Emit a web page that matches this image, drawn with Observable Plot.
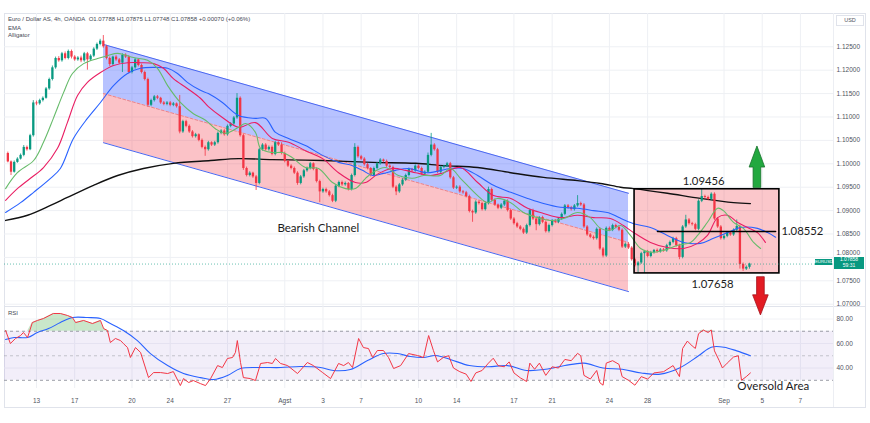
<!DOCTYPE html>
<html>
<head>
<meta charset="utf-8">
<script src="https://cdn.jsdelivr.net/npm/d3@7"></script>
<script src="https://cdn.jsdelivr.net/npm/@observablehq/plot@0.6"></script>
<style>
  html, body { margin: 0; padding: 0; background: #fff; }
  #wrap { position: relative; width: 870px; height: 423px; overflow: hidden; font-family: "Liberation Sans", Arial, sans-serif; }
  #wrap svg { position: absolute; left: 0; overflow: visible; }
  .ov { position: absolute; white-space: nowrap; }
  .hl { position: absolute; background: #e0e3eb; }
</style>
</head>
<body>
<div id="wrap"></div>
<script>
// ---------------- DATA ----------------
// 4h EUR/USD bars, x = bar index (6 bars per trading day, Jul 11 = day 0)
const firstBar = 3;
const firstOpen = 1.1022;
const closes = [
  1.1004, 1.0982, 1.1003,                          // Jul 11
  1.1010, 1.1018, 1.1035, 1.1030, 1.1060, 1.1130,  // Jul 12
  1.1128, 1.1135, 1.1140, 1.1160, 1.1180, 1.1205,  // Jul 13
  1.1225, 1.1220, 1.1235, 1.1225, 1.1240, 1.1228,  // Jul 14
  1.1222, 1.1226, 1.1220, 1.1235, 1.1222, 1.1230,  // Jul 17
  1.1245, 1.1255, 1.1262, 1.1250, 1.1225, 1.1212,  // Jul 18
  1.1228, 1.1222, 1.1215, 1.1232, 1.1228, 1.1195,  // Jul 19
  1.1205, 1.1222, 1.1210, 1.1195, 1.1180, 1.1125,  // Jul 20
  1.1135, 1.1143, 1.1140, 1.1130, 1.1127, 1.1130,  // Jul 21
  1.1125, 1.1128, 1.1122, 1.1068, 1.1090, 1.1080,  // Jul 24
  1.1068, 1.1058, 1.1062, 1.1050, 1.1035, 1.1030,  // Jul 25
  1.1045, 1.1040, 1.1045, 1.1065, 1.1070, 1.1062,  // Jul 26
  1.1080, 1.1085, 1.1098, 1.1140, 1.1060, 1.0990,  // Jul 27
  1.0975, 1.0980, 1.0972, 1.0958, 1.1030, 1.1040,  // Jul 28
  1.1030, 1.1035, 1.1020, 1.1045, 1.1040, 1.1022,  // Jul 31
  1.1005, 1.0995, 1.0990, 1.0980, 1.0958, 1.0972,  // Aug 1
  1.0985, 1.0990, 1.1000, 1.0988, 1.0962, 1.0940,  // Aug 2
  1.0945, 1.0940, 1.0932, 1.0920, 1.0952, 1.0960,  // Aug 3
  1.0955, 1.0958, 1.0945, 1.0975, 1.1035, 1.1015,  // Aug 4
  1.1010, 1.0998, 1.0990, 1.0975, 1.0990, 1.1000,  // Aug 7
  1.1008, 1.1005, 1.0995, 1.0992, 1.0950, 1.0940,  // Aug 8
  1.0955, 1.0965, 1.0975, 1.0988, 1.0985, 1.0995,  // Aug 9
  1.0990, 1.0978, 1.0982, 1.1018, 1.1040, 1.1030,  // Aug 10
  1.0982, 1.0992, 1.0995, 1.1000, 1.0970, 1.0948,  // Aug 11
  1.0950, 1.0940, 1.0938, 1.0930, 1.0898, 1.0895,  // Aug 14
  1.0918, 1.0915, 1.0902, 1.0915, 1.0945, 1.0922,  // Aug 15
  1.0912, 1.0905, 1.0912, 1.0920, 1.0900, 1.0882,  // Aug 16
  1.0872, 1.0865, 1.0860, 1.0852, 1.0868, 1.0900,  // Aug 17
  1.0882, 1.0870, 1.0885, 1.0875, 1.0855, 1.0868,  // Aug 18
  1.0878, 1.0875, 1.0882, 1.0892, 1.0910, 1.0906,  // Aug 21
  1.0902, 1.0910, 1.0915, 1.0912, 1.0865, 1.0848,  // Aug 22
  1.0843, 1.0840, 1.0860, 1.0818, 1.0803, 1.0862,  // Aug 23
  1.0858, 1.0868, 1.0864, 1.0858, 1.0822, 1.0828,  // Aug 24
  1.0820, 1.0795, 1.0782, 1.0788, 1.0808, 1.0812,  // Aug 25
  1.0802, 1.0810, 1.0815, 1.0812, 1.0816, 1.0814,  // Aug 28
  1.0825, 1.0832, 1.0840, 1.0825, 1.0800, 1.0865,  // Aug 29
  1.0880, 1.0872, 1.0870, 1.0860, 1.0920, 1.0930,  // Aug 30
  1.0928, 1.0924, 1.0935, 1.0882, 1.0865, 1.0840,  // Aug 31
  1.0845, 1.0852, 1.0848, 1.0858, 1.0866, 1.0785,  // Sep 1
  1.0775, 1.07788, 1.07858                         // Sep 4
];
// upper / lower wick lengths in pips (0.0001)
const wickUp = [
  3,2,3,
  3,3,4,3,3,5,  4,3,3,3,3,4,  3,4,3,4,3,3,  3,3,4,3,3,3,  3,3,4,12,3,3,
  2,3,3,3,3,3,  3,3,2,3,3,3,  3,3,3,2,3,3,  3,3,2,24,3,3,  3,3,3,2,3,3,
  3,2,3,3,3,3,  3,3,3,10,3,3, 3,3,2,3,3,3,  3,3,3,3,2,5,  3,2,3,3,3,3,
  3,3,3,2,3,3,  3,3,3,3,3,3,  3,3,2,3,8,3,  3,3,3,2,3,3,  3,2,3,3,3,3,
  3,3,3,3,2,3,  3,3,3,5,25,3, 3,3,2,3,3,3,  3,3,3,3,3,3,  3,3,3,3,5,3,
  3,2,3,3,3,3,  3,3,3,3,3,3,  3,3,2,3,3,3,  3,3,3,3,3,3,  3,3,17,3,3,3,
  3,3,3,3,3,3,  3,3,3,3,3,3,  3,3,3,3,3,3,  3,3,2,3,3,3,  3,3,3,3,3,3,
  10,3,3,3,3,15, 3,3,3,3,3,3, 3,3,3,3,14,3,
  3,3,1.7
];
const wickDn = [
  2,7,2,
  2,2,3,3,2,3,  4,3,3,2,3,3,  3,3,3,3,3,4,  3,3,4,3,22,3, 3,3,3,3,3,4,
  3,3,3,20,3,3, 3,3,3,3,3,4,  3,3,3,3,3,3,  3,3,3,4,3,3,  3,3,3,3,3,14,
  3,3,3,3,3,3,  3,3,3,3,3,4,  3,3,3,15,3,3, 3,3,3,3,3,3,  3,3,3,3,4,3,
  3,3,3,3,3,23, 3,3,3,3,3,3,  3,3,3,3,3,3,  3,3,3,3,3,3,  3,3,3,3,3,8,
  3,3,3,3,3,3,  3,3,3,3,3,3,  3,3,3,3,3,3,  3,3,3,3,3,20, 3,3,3,3,3,3,
  3,3,3,3,3,3,  3,3,3,3,3,3,  3,13,3,3,3,3, 3,3,3,3,3,3,  3,3,3,3,3,3,
  3,3,3,3,4,3,  3,3,3,3,3,3,  3,3,3,16,3,42, 3,3,3,3,3,3, 3,3,3,3,5,3,
  3,3,3,3,3,3,  3,3,3,3,3,3,  3,3,3,3,3,10,
  5,3,4
];

// indicator lines: [bar, price]
const alligatorLips = [[2.3,1.0947],[6.0,1.0981],[11.1,1.1007],[14.2,1.1046],[17.3,1.1097],[20.5,1.1152],[23.3,1.1193],[26.8,1.1214],[31.2,1.1225],[34.3,1.1231],[37.5,1.1236],[42.5,1.1227],[46.9,1.1221],[50.0,1.1204],[53.2,1.1167],[57.2,1.1131],[61.3,1.1107],[65.1,1.1093],[68.2,1.1075],[71.4,1.1065],[75.5,1.1078],[77.7,1.1086],[80.8,1.1067],[82.4,1.1033],[86.1,1.1024],[89.3,1.1024],[92.4,1.1013],[96.5,1.0992],[100.6,1.0990],[105.0,1.0960],[109.1,1.0947],[112.2,1.0947],[115.4,1.0969],[117.6,1.0981],[121.6,1.0992],[125.7,1.0975],[130.1,1.0969],[133.6,1.0975],[138.9,1.0975],[142.1,1.0990],[145.2,1.0969],[150.6,1.0932],[153.7,1.0917],[156.8,1.0926],[161.0,1.0917],[165.0,1.0896],[169.4,1.0885],[173.5,1.0879],[177.6,1.0883],[182.0,1.0896],[186.0,1.0885],[189.2,1.0862],[192.3,1.0858],[195.5,1.0868],[198.6,1.0847],[201.8,1.0819],[204.9,1.0811],[209.0,1.0815],[213.4,1.0826],[217.5,1.0832],[219.7,1.0847],[222.8,1.0875],[226.0,1.0905],[227.8,1.0900],[231.0,1.0875],[234.1,1.0862],[237.3,1.0832],[239.5,1.0819]];
const alligatorTeeth = [[2.3,1.0922],[6.0,1.0947],[10.1,1.0969],[14.2,1.0992],[18.6,1.1033],[21.7,1.1088],[24.9,1.1146],[28.0,1.1174],[32.1,1.1195],[36.2,1.1210],[40.6,1.1216],[44.7,1.1216],[48.8,1.1214],[51.9,1.1204],[55.0,1.1182],[59.4,1.1161],[63.5,1.1140],[66.0,1.1122],[70.4,1.1099],[75.5,1.1078],[80.8,1.1088],[86.1,1.1054],[91.2,1.1046],[96.5,1.1028],[101.9,1.1011],[106.9,1.0981],[112.2,1.0960],[115.4,1.0960],[119.4,1.0979],[123.8,1.0990],[128.0,1.0986],[131.1,1.0981],[135.8,1.0975],[139.9,1.0981],[145.2,1.0992],[150.6,1.0960],[155.6,1.0932],[161.0,1.0926],[166.3,1.0905],[171.3,1.0894],[176.6,1.0885],[182.0,1.0890],[187.0,1.0885],[192.3,1.0883],[196.4,1.0868],[199.6,1.0853],[204.9,1.0832],[210.2,1.0821],[215.3,1.0819],[219.7,1.0830],[222.8,1.0847],[226.0,1.0885],[229.1,1.0890],[232.2,1.0875],[235.4,1.0864],[238.5,1.0853],[241.0,1.0832]];
const alligatorJaw = [[2.3,1.0896],[7.0,1.0917],[11.1,1.0939],[16.4,1.0969],[19.5,1.0990],[23.6,1.1054],[28.0,1.1097],[32.1,1.1131],[36.2,1.1167],[40.6,1.1193],[44.7,1.1204],[48.8,1.1206],[53.2,1.1204],[56.3,1.1193],[59.4,1.1174],[63.5,1.1157],[66.0,1.1150],[70.4,1.1131],[75.5,1.1103],[80.8,1.1097],[84.0,1.1097],[87.1,1.1067],[91.2,1.1054],[96.5,1.1039],[101.9,1.1018],[106.9,1.1003],[111.3,1.0996],[114.4,1.0986],[117.6,1.0975],[120.7,1.0979],[124.8,1.0986],[128.9,1.0990],[134.8,1.0981],[142.1,1.0990],[146.1,1.0990],[150.6,1.0975],[155.6,1.0954],[161.0,1.0939],[166.3,1.0926],[171.3,1.0915],[176.6,1.0907],[182.0,1.0905],[187.0,1.0900],[192.3,1.0894],[195.0,1.0885],[199.6,1.0872],[204.9,1.0864],[210.2,1.0847],[215.3,1.0832],[220.6,1.0830],[224.7,1.0841],[229.1,1.0853],[233.2,1.0864],[238.5,1.0862],[241.7,1.0853],[244.2,1.0843]];
const ema200 = [[2.3,1.0879],[9.2,1.0890],[16.4,1.0911],[21.7,1.0928],[29.9,1.0954],[37.5,1.0975],[45.6,1.0990],[55.0,1.1001],[66.7,1.1007],[75.5,1.1011],[86.1,1.1009],[101.9,1.1007],[117.6,1.1003],[131.1,1.1001],[139.9,1.0996],[150.6,1.0992],[161.0,1.0981],[171.3,1.0971],[182.0,1.0964],[189.2,1.0958],[195.5,1.0950],[199.6,1.0947],[210.2,1.0937],[220.6,1.0926],[231.0,1.0917],[236.3,1.0915]];

// RSI and its moving average: [bar, value]
const rsi = [[2.3,70.6],[3.8,60.0],[5.4,64.1],[7.0,66.5],[7.9,69.0],[9.2,64.9],[10.7,77.1],[12.3,78.8],[14.2,80.4],[17.3,84.5],[19.5,84.5],[21.7,82.9],[23.3,81.2],[24.3,77.1],[26.8,78.8],[29.6,76.3],[32.1,78.8],[33.1,72.2],[34.3,70.6],[35.2,60.8],[36.8,64.1],[38.4,62.4],[39.3,60.0],[40.6,56.7],[41.5,48.6],[43.1,56.7],[44.7,52.7],[47.2,32.2],[48.8,36.3],[51.0,36.3],[53.2,35.5],[55.0,37.1],[57.2,25.7],[58.2,31.4],[59.8,28.2],[61.3,29.8],[63.5,27.3],[65.1,25.7],[66.7,31.4],[68.9,42.0],[70.4,40.4],[72.0,47.8],[73.6,48.6],[74.5,52.7],[75.1,62.4],[76.1,44.5],[77.0,32.2],[79.2,31.4],[80.8,29.8],[82.4,43.7],[84.6,44.5],[86.1,43.7],[87.1,47.8],[88.7,43.7],[90.9,42.0],[94.0,35.5],[97.1,44.5],[99.0,42.0],[101.9,36.3],[104.4,31.4],[106.9,43.7],[108.5,42.0],[110.0,44.5],[111.3,40.4],[113.2,64.1],[114.7,56.7],[116.3,55.9],[117.6,48.6],[119.1,54.3],[121.0,54.3],[122.6,48.6],[124.2,39.6],[126.4,42.0],[128.9,51.8],[131.7,50.2],[133.6,48.6],[135.2,66.5],[136.7,54.3],[138.0,45],[140.0,49],[141.5,50],[143.0,40],[145.0,37],[147.0,35],[148.5,29],[150.0,36],[152.0,38],[154.0,44],[155.5,48],[157.0,42],[159.0,41],[160.5,45],[162.0,36],[164.0,32],[166.0,29],[167.0,44],[168.5,39],[170.0,44],[172.0,34],[174.0,41],[176.0,40],[178.0,47],[180.0,46],[182.0,52],[183.0,50],[184.0,34],[186.0,31],[188.0,38],[189.0,28],[190.0,26],[191.0,44],[193.0,46],[195.0,43],[196.0,33],[198.0,30],[200.0,26],[202.0,33],[204.0,31],[206.0,36],[209.0,37],[212.0,42],[214.0,33],[215.0,56],[216.5,62],[218.0,58],[219.0,56],[220.0,68],[221.5,71],[223.0,69],[224.0,71],[225.0,54],[226.5,46],[227.5,40],[229.0,44],[231.0,49],[232.5,50],[233.5,30],[235.0,33],[236.3,36]];
const rsiMA = [[2.3,63.3],[5.0,64.9],[9.2,64.9],[12.3,69.0],[15.8,72.2],[19.5,77.1],[23.3,81.2],[28.0,81.2],[32.1,80.4],[35.2,76.3],[39.3,70.6],[43.7,62.4],[47.8,51.8],[53.2,42.0],[58.2,35.5],[63.5,32.2],[67.6,30.6],[72.0,33.9],[76.1,39.6],[82.4,40.4],[88.7,40.4],[94.9,41.2],[101.2,40.4],[105.3,38.0],[110.6,38.8],[116.0,46.1],[121.0,51.8],[125.4,51.8],[129.5,49.4],[133.6,48.6],[137.4,50.2],[142,47],[148,42],[154,41],[160,42],[166,38],[172,39],[178,42],[184,44],[190,40],[196,39],[202,36],[208,35],[214,40],[220,50],[224,57],[228,57],[232,54],[236.3,50]];

// drawings
const channelBars = [33.05, 198.0];
const channelUpper = [1.1255, 1.0937];
const channelMid = [1.1150, 1.0832];
const channelLower = [1.1045, 1.0727];
const boxBars = [199.9, 245.4];
const boxTop = 1.09456;
const boxBottom = 1.07658;
const midLevel = 1.08552;
const midLevelBars = [207.1, 244.2];
const arrowUp = {bar: 238.5, base: 1.0949, neck: 1.0992, tip: 1.1037};
const arrowDown = {bar: 239.6, base: 1.0757, neck: 1.0719, tip: 1.0676};

// axes
const xDomain = [1.95, 262.4];
const priceDomain = [1.06951, 1.13211];
const rsiDomain = [23.3, 90.2];
const priceTicks = [1.070, 1.075, 1.080, 1.085, 1.090, 1.095, 1.100, 1.105, 1.110, 1.115, 1.120, 1.125];
const rsiTicks = [40, 60, 80];
const rsiLevels = [70, 50, 30];
const dayTickBars = [12, 24, 42, 54, 72, 90, 102, 114, 132, 144, 162, 174, 192, 204, 228, 240, 252];
const dayTickLabels = ["13", "17", "20", "24", "27", "Agst", "3", "7", "10", "14", "17", "21", "24", "28", "Sep", "5", "7"];

// ---------------- BUILD ----------------
const UP = "#089981", DOWN = "#f23645";
const candles = closes.map((c, i) => {
  const o = i === 0 ? firstOpen : closes[i - 1];
  return {b: firstBar + i, o, c, h: Math.max(o, c) + wickUp[i] / 1e4, l: Math.min(o, c) - wickDn[i] / 1e4};
});
const upC = candles.filter(d => d.c >= d.o);
const dnC = candles.filter(d => d.c < d.o);
const lastClose = closes[closes.length - 1];

const chan = channelBars.map((b, i) => ({b, upper: channelUpper[i], mid: channelMid[i], lower: channelLower[i]}));
const pts = a => a.map(([b, v]) => ({b, v}));
const SW = 1.2, HW = 2.45;
function arrowPoly(a) {
  return [
    {y: a.base, x1: a.bar - SW, x2: a.bar + SW},
    {y: a.neck, x1: a.bar - SW, x2: a.bar + SW},
    {y: a.neck, x1: a.bar - HW, x2: a.bar + HW},
    {y: a.tip, x1: a.bar, x2: a.bar}
  ];
}
const ANN = "Lato, 'Noto Sans', sans-serif";
const fmt5 = d3.format(".5f");
// price-scale labels: the one next to the live-price tag is nudged up (as TradingView does)
const nearTag = t => Math.abs(t - lastClose) < 0.0025;
const AXF = "'Liberation Sans', Arial, sans-serif";

const priceChart = Plot.plot({
  width: 870, height: 306,
  marginLeft: 4, marginRight: 37, marginTop: 13, marginBottom: 0,
  style: {background: "transparent", fontSize: "6.5px", fontFamily: AXF, color: "#50535e", overflow: "visible"},
  x: {domain: xDomain, axis: null},
  y: {domain: priceDomain, axis: null},
  marks: [
    Plot.ruleY(priceTicks, {stroke: "#eef0f4"}),
    Plot.ruleX(dayTickBars, {stroke: "#eef0f4"}),
    Plot.areaY(chan, {x: "b", y1: "mid", y2: "upper", fill: "#3d5afe", fillOpacity: 0.37}),
    Plot.areaY(chan, {x: "b", y1: "lower", y2: "mid", fill: "#f23645", fillOpacity: 0.3}),
    Plot.rect([{x1: boxBars[0], x2: boxBars[1], y1: boxBottom, y2: boxTop}], {x1: "x1", x2: "x2", y1: "y1", y2: "y2", fill: "#f23645", fillOpacity: 0.28}),
    Plot.line(chan, {x: "b", y: "upper", stroke: "#4a67f0", strokeWidth: 1}),
    Plot.line(chan, {x: "b", y: "lower", stroke: "#4a67f0", strokeWidth: 1}),
    Plot.line(chan, {x: "b", y: "mid", stroke: "#e8838d", strokeWidth: 1, strokeDasharray: "3,2"}),
    Plot.line(pts(ema200), {x: "b", y: "v", stroke: "#111", strokeWidth: 1.4, curve: "catmull-rom"}),
    Plot.ruleX(upC, {x: "b", y1: "l", y2: "h", stroke: UP, strokeWidth: 0.8}),
    Plot.ruleX(dnC, {x: "b", y1: "l", y2: "h", stroke: DOWN, strokeWidth: 0.8}),
    Plot.ruleX(upC, {x: "b", y1: "o", y2: "c", stroke: UP, strokeWidth: 2.3}),
    Plot.ruleX(dnC, {x: "b", y1: "o", y2: "c", stroke: DOWN, strokeWidth: 2.3}),
    Plot.line(pts(alligatorJaw), {x: "b", y: "v", stroke: "#2962ff", strokeWidth: 1.1, curve: "catmull-rom"}),
    Plot.line(pts(alligatorTeeth), {x: "b", y: "v", stroke: "#e91e63", strokeWidth: 1.1, curve: "catmull-rom"}),
    Plot.line(pts(alligatorLips), {x: "b", y: "v", stroke: "#66bb6a", strokeWidth: 1.1, curve: "catmull-rom"}),
    Plot.rect([{x1: boxBars[0], x2: boxBars[1], y1: boxBottom, y2: boxTop}], {x1: "x1", x2: "x2", y1: "y1", y2: "y2", fill: "none", stroke: "#000", strokeWidth: 1.6}),
    Plot.line(midLevelBars.map(b => ({b, v: midLevel})), {x: "b", y: "v", stroke: "#000", strokeWidth: 1.6}),
    Plot.ruleY([lastClose], {stroke: UP, strokeOpacity: 0.6, strokeDasharray: "1,2"}),
    Plot.areaX(arrowPoly(arrowUp), {y: "y", x1: "x1", x2: "x2", fill: "#22a83f", stroke: "#17722b", strokeWidth: 0.8}),
    Plot.areaX(arrowPoly(arrowDown), {y: "y", x1: "x1", x2: "x2", fill: "#e31b23", stroke: "#a5121a", strokeWidth: 0.8}),
    Plot.text([{b: 87.7, v: 1.0862, t: "Bearish Channel"}], {x: "b", y: "v", text: "t", textAnchor: "start", fontSize: 11.5, fontFamily: ANN, fill: "#1b1b1b"}),
    Plot.text([{b: 221.6, v: boxTop}], {x: "b", y: "v", text: d => fmt5(d.v), dy: -8, fontSize: 11.3, fontFamily: ANN, fill: "#1b1b1b"}),
    Plot.text([{b: 224.4, v: boxBottom}], {x: "b", y: "v", text: d => fmt5(d.v), dy: 11, fontSize: 11.3, fontFamily: ANN, fill: "#1b1b1b"}),
    Plot.text([{b: boxBars[1], v: midLevel}], {x: "b", y: "v", text: d => fmt5(d.v), dx: 2, textAnchor: "start", fontSize: 11.3, fontFamily: ANN, fill: "#1b1b1b"}),
    // right price scale
    Plot.text(priceTicks.filter(t => !nearTag(t)), {y: d => d, text: d => fmt5(d), frameAnchor: "right", textAnchor: "start", dx: 3, fontSize: 6.5, fontFamily: AXF, fill: "#50535e"}),
    Plot.text(priceTicks.filter(nearTag), {y: d => d, text: d => fmt5(d), frameAnchor: "right", textAnchor: "start", dx: 3, dy: -4.5, fontSize: 6.5, fontFamily: AXF, fill: "#50535e"})
  ]
});

const rsiData = pts(rsi);
const rsiChart = Plot.plot({
  width: 870, height: 101,
  marginLeft: 4, marginRight: 37, marginTop: 0, marginBottom: 19,
  style: {background: "transparent", fontSize: "6.5px", fontFamily: AXF, color: "#50535e", overflow: "visible"},
  x: {domain: xDomain, ticks: dayTickBars, tickFormat: d => dayTickLabels[dayTickBars.indexOf(d)], tickSize: 0, tickPadding: 9.5, label: null},
  y: {domain: rsiDomain, axis: "right", ticks: rsiTicks, tickFormat: d3.format(".2f"), tickSize: 0, tickPadding: 3, label: null},
  marks: [
    Plot.ruleX(dayTickBars, {stroke: "#eef0f4"}),
    Plot.ruleY(rsiTicks, {stroke: "#f1f2f6"}),
    Plot.areaY(xDomain.map(b => ({b})), {x: "b", y1: rsiLevels[2], y2: rsiLevels[0], fill: "#7e57c2", fillOpacity: 0.1}),
    Plot.ruleY([rsiLevels[0], rsiLevels[2]], {stroke: "#9a9ca5", strokeDasharray: "3,3"}),
    Plot.ruleY([rsiLevels[1]], {stroke: "#9a9ca5", strokeOpacity: 0.55, strokeDasharray: "3,3"}),
    Plot.areaY(rsiData, {x: "b", y1: rsiLevels[0], y2: d => Math.max(d.v, rsiLevels[0]), fill: "#4caf50", fillOpacity: 0.3}),
    Plot.line(pts(rsiMA), {x: "b", y: "v", stroke: "#2962ff", strokeWidth: 1.1, curve: "catmull-rom"}),
    Plot.line(rsiData, {x: "b", y: "v", stroke: "#f23645", strokeWidth: 1}),
    Plot.text([{b: 232.2, v: 24.9, t: "Oversold Area"}], {x: "b", y: "v", text: "t", textAnchor: "start", fontSize: 11.5, fontFamily: ANN, fill: "#1b1b1b"})
  ]
});

const wrap = document.getElementById("wrap");
rsiChart.style.top = "306px";
rsiChart.style.zIndex = 1;
priceChart.style.top = "0px";
priceChart.style.zIndex = 2;
wrap.appendChild(rsiChart);
wrap.appendChild(priceChart);

function div(cls, css, html) {
  const e = document.createElement("div");
  e.className = cls;
  Object.assign(e.style, css);
  if (html != null) e.innerHTML = html;
  wrap.appendChild(e);
  return e;
}
// frame lines
div("hl", {left: "4px", top: "13px", width: "862px", height: "1px"});
div("hl", {left: "4px", top: "407px", width: "862px", height: "1px"});
div("hl", {left: "4px", top: "306px", width: "862px", height: "1px"});
div("hl", {left: "4px", top: "13px", width: "1px", height: "394px"});
div("hl", {left: "865px", top: "13px", width: "1px", height: "394px"});
div("hl", {left: "833px", top: "13px", width: "1px", height: "394px", background: "#eceef3"});

const txt = {fontSize: "6px", lineHeight: "7px", color: "#454954", zIndex: 3};
div("ov", Object.assign({left: "8px", top: "15.5px"}, txt), "Euro / Dollar AS, 4h, OANDA&nbsp; O1.07788 H1.07875 L1.07748 C1.07858 +0.00070 (+0.06%)");
div("ov", Object.assign({left: "8px", top: "24.8px"}, txt), "EMA");
div("ov", Object.assign({left: "8px", top: "31.8px"}, txt), "Alligator");
div("ov", Object.assign({left: "8px", top: "309.5px"}, txt), "RSI");
div("ov", {left: "836px", top: "15px", width: "26px", height: "9px", border: "1px solid #e0e3eb", fontSize: "5.5px", lineHeight: "9px", textAlign: "center", color: "#50535e", zIndex: 3, background: "#fff"}, "USD");

const py = priceChart.scale("y").apply(lastClose);
div("ov", {left: "815px", top: (py - 5) + "px", width: "17px", height: "6px", background: UP, color: "#fff", fontSize: "4.3px", lineHeight: "6px", textAlign: "center", zIndex: 4}, "EURUSD");
div("ov", {left: "834px", top: (py - 7) + "px", width: "30px", height: "12px", background: UP, color: "#fff", fontSize: "5px", lineHeight: "5.5px", textAlign: "center", zIndex: 4, paddingTop: "0.5px"}, "1.07858<br>59:31");
</script>
</body>
</html>
